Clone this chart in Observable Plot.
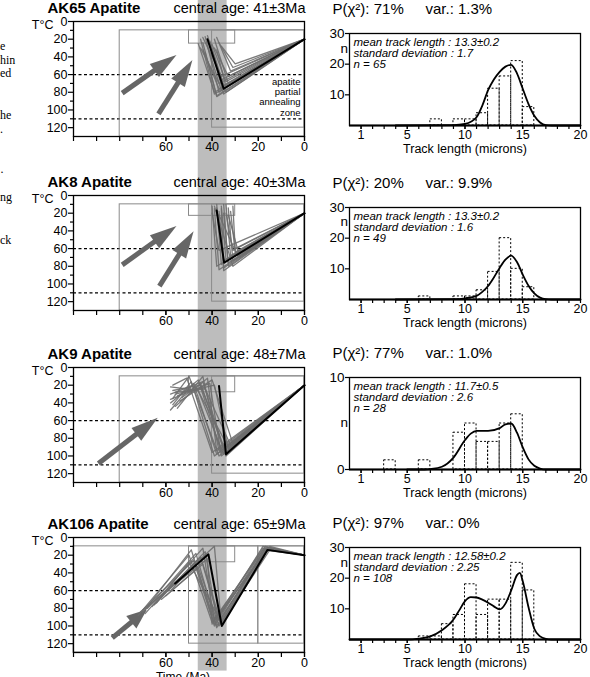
<!DOCTYPE html>
<html><head><meta charset="utf-8">
<script src="https://cdn.jsdelivr.net/npm/d3@7"></script>
<script src="https://cdn.jsdelivr.net/npm/@observablehq/plot@0.6"></script>
<style>
html,body{margin:0;padding:0;background:#fff;overflow:hidden;}
#fig{position:relative;width:590px;height:677px;overflow:hidden;background:#fff;}
.frag{position:absolute;left:0;font-family:"Liberation Serif","Times New Roman",serif;font-size:12px;line-height:10px;white-space:nowrap;}
</style></head><body><div id="fig"></div>
<script>
const FONT = '"Liberation Sans", Arial, Helvetica, sans-serif';

// ---------- labels ----------
const sampleNames = ["AK65 Apatite", "AK8 Apatite", "AK9 Apatite", "AK106 Apatite"];
const centralAges = ["central age: 41±3Ma", "central age: 40±3Ma", "central age: 48±7Ma", "central age: 65±9Ma"];
const pChi2 = ["P(χ²): 71%", "P(χ²): 20%", "P(χ²): 77%", "P(χ²): 97%"];
const variances = ["var.: 1.3%", "var.: 9.9%", "var.: 1.0%", "var.: 0%"];
const meanLengths = ["13.3±0.2", "13.3±0.2", "11.7±0.5", "12.58±0.2"];
const stdDevs = ["1.7", "1.6", "2.6", "2.25"];
const trackCounts = [65, 49, 28, 108];
const apazLines = ["apatite", "partial", "annealing", "zone"];
const apazLineT = [67.8, 79.7, 91.5, 103.4];

// ---------- time-temperature axes ----------
const timeDomain = [100, 0];
const tempDomain = [0, 130];
const timeTicks = [0, 10, 20, 30, 40, 50, 60, 70, 80, 90, 100];
const timeLabels = [0, 20, 40, 60];
const tempTicksMajor = [0, 20, 40, 60, 80, 100, 120];
const tempTicksMinor = [10, 30, 50, 70, 90, 110];
const apazBounds = [60, 110];
const bandAge = [46, 33.5];
const surfaceNow = [0, 20];

// constraint boxes [t1, t2, T1, T2]
const ak65Boxes = [[80, 0, 10, 130], [50, 30, 10, 25], [40, 0, 10, 120]];
const ak8Boxes = [[80, 0, 10, 130], [50, 30, 10, 23], [40, 0, 10, 120]];
const ak9Boxes = [[80, 0, 10, 130], [50, 30, 10, 28], [40, 0, 10, 120]];
const ak106Boxes = [[100, 0, 10, 130], [50, 30, 10, 28], [50, 20, 10, 120], [20, 0, 10, 120]];

// arrows [t1, T1, t2, T2]
const ak65Arrows = [[78.7, 81.5, 55.2, 38.5], [63, 105, 48.3, 44]];
const ak8Arrows = [[78.7, 79, 55.2, 35], [62.6, 103, 47.8, 41]];
const ak9Arrows = [[89, 109, 63.3, 57.5]];
const ak106Arrows = [[83, 114, 68, 82]];

// modelled paths: flat vertex lists [t, T, t, T, ...] (then to present-day surface)
const ak65Paths = [
  [45,20,39,82],[44,24,38,84],[43,17,37,80],[42,28,36,78],[41,22,35,72],[40,26,34,68],
  [39,30,33,62],[38,18,32,56],[44,32,37,76],[46,25,39,80],[37,24,31,52],[42,16,36,66],
  [40,34,35,82],[43,35,38,85],[39,20,33,70],[45,30,37,70],[41,27,34,80],[36,28,30,48],
  [38,32,34,74],[44,18,36,62]
];
const ak8Paths = [
  [40,12,38,80],[39,15,37,84],[38,10,36,78],[37,18,35,82],[36,12,34,72],[35,20,33,76],
  [34,10,32,68],[33,14,31,74],[32,18,30,64],[40,20,37,62],[39,12,31,80],[37,22,29,68],
  [36,15,35,85],[34,20,31,62],[38,14,35,74],[33,22,28,70],[31,12,30,60],[35,10,33,80]
];
const ak9Paths = [
  [58,48,48,18,38,98],[58,40,46,14,36,96],[57,35,50,10,37,100],[58,30,44,16,35,92],
  [57,26,45,20,34,96],[56,44,42,12,38,94],[55,32,47,22,33,90],[58,36,41,18,36,100],
  [56,28,43,24,32,88],[57,42,49,16,39,100],[54,38,40,14,31,86],[58,22,46,26,35,98],
  [55,46,44,10,37,94],[56,30,39,20,33,92],[57,20,51,12,40,96],[53,34,45,18,34,100]
];
const ak106Paths = [
  [70,85,49,14,39,98,18,10],[68,80,47,18,38,100,17,12],[72,88,50,20,40,96,18,14],
  [65,76,45,22,37,94,16,12],[70,82,48,26,39,100,17,10],[62,70,44,30,36,98,15,14],
  [66,78,43,16,38,92,16,11],[60,66,46,34,37,100,17,13],[71,84,42,24,40,98,18,12],
  [64,74,50,28,36,96,15,10],[69,86,44,12,39,94,16,14],[58,60,47,30,38,102,17,12],
  [70,84,39,10,36,98,16,12]
];
// best-fit paths
const ak65Best = [42,20,35,76];
const ak8Best = [38,17,34.8,76];
const ak9Best = [37,21,34,98];
const ak106Best = [56,52,41.6,19,35.8,100,16,14];

// ---------- track length histograms ----------
const binStarts = [0,1,2,3,4,5,6,7,8,9,10,11,12,13,14,15,16,17,18,19];
const ak65Counts = [0,0,0,0,0,0,0,2,0,2,2,4,12,16,21,6,0,0,0,0];
const ak8Counts  = [0,0,0,0,0,0,1,0,0,1,1,3,9,20,10,4,0,0,0,0];
const ak9Counts  = [0,0,0,1,0,0,1,0,0,4,5,3,3,5,6,0,0,0,0,0];
const ak106Counts= [0,0,0,0,0,0,1,1,5,8,18,8,13,13,25,16,0,0,0,0];

const ak65Curve = [[4,0],[9,0.1],[10,0.5],[11,2.7],[11.5,6.5],[12,11.5],[12.5,15],[13,17.5],[13.5,19.2],[14,19.8],[14.5,17],[15,12],[15.5,7],[16,3.2],[16.5,1],[17,0.1],[17.5,0],[20,0]];
const ak8Curve = [[4,0],[9,0.1],[10,0.4],[11,1.2],[11.5,2.5],[12,4.4],[12.5,7.2],[13,10.3],[13.5,13],[14,14.3],[14.5,12.2],[15,8.1],[15.5,4.5],[16,2],[16.5,0.6],[17,0.1],[17.5,0],[20,0]];
const ak9Curve = [[5,0],[6.5,0],[7,0.05],[8,0.3],[9,1.3],[10,3.2],[10.5,3.9],[11,4.2],[12,4.2],[13,4.5],[13.5,4.9],[14,5.0],[14.5,4.0],[15,2.4],[15.5,1.1],[16,0.4],[16.5,0.1],[17,0],[20,0]];
const ak106Curve = [[0,0],[5,0],[6,0.3],[7,1],[8,3],[9,6.5],[9.5,9.5],[10,12.5],[10.5,13.8],[11,13.7],[11.5,13],[12,12],[12.5,10.8],[13,9.8],[13.5,11.7],[14,16],[14.5,21],[14.75,21.7],[15,19],[15.5,10.5],[16,3.5],[16.5,1],[17,0.2],[17.5,0],[20,0]];

const lengthDomain = [0, 20];
const lengthTicks = [1,2,3,4,5,6,7,8,9,10,11,12,13,14,15,16,17,18,19];
const lengthLabels = [1, 5, 10, 15, 20];
const countMax = [30, 30, 10, 30];
const countTicks = [[10, 20, 30], [10, 20, 30], [0, 10], [10, 20, 30]];

// ---------- layout (pixels) ----------
const panelTop = [0, 174, 346, 516];
const panelH = [174, 172, 170, 161];
const leftMT = 21, leftArea = 115;
const rightMT = [33, 33, 31, 31];
const nDy = [15, 14, 45, 15];
const ARROW_COLOR = "#666666";

const boxes = [ak65Boxes, ak8Boxes, ak9Boxes, ak106Boxes];
const arrows = [ak65Arrows, ak8Arrows, ak9Arrows, ak106Arrows];
const paths = [ak65Paths, ak8Paths, ak9Paths, ak106Paths];
const bests = [ak65Best, ak8Best, ak9Best, ak106Best];
const counts = [ak65Counts, ak8Counts, ak9Counts, ak106Counts];
const curves = [ak65Curve, ak8Curve, ak9Curve, ak106Curve];

function toRows(list) {
  return list.flatMap((p, id) => {
    const pts = [];
    for (let j = 0; j < p.length; j += 2) pts.push({id, t: p[j], T: p[j + 1]});
    pts.push({id, t: surfaceNow[0], T: surfaceNow[1]});
    return pts;
  });
}

const fig = document.getElementById("fig");
function place(node, left, top) {
  node.style.position = "absolute";
  node.style.left = left + "px";
  node.style.top = top + "px";
  fig.appendChild(node);
}

let renderWorked = false;
function filledArrows(data) {
  return Plot.dot(data, {
    x: d => d[2], y: d => d[3], r: 0,
    render(index, scales, values, dimensions, context) {
      renderWorked = true;
      const g = d3.create("svg:g");
      for (const i of index) {
        const d = data[i];
        const x1 = scales.x(d[0]), y1 = scales.y(d[1]), x2 = scales.x(d[2]), y2 = scales.y(d[3]);
        const L = Math.hypot(x2 - x1, y2 - y1), ux = (x2 - x1) / L, uy = (y2 - y1) / L;
        const hl = Math.min(27, L * 0.45), hw = 8;
        const bx = x2 - ux * hl, by = y2 - uy * hl;
        g.append("line").attr("x1", x1).attr("y1", y1).attr("x2", bx + ux * 2).attr("y2", by + uy * 2)
          .attr("stroke", ARROW_COLOR).attr("stroke-width", 5);
        g.append("path")
          .attr("d", `M${x2},${y2}L${bx - uy * hw},${by + ux * hw}L${bx + uy * hw},${by - ux * hw}Z`)
          .attr("fill", ARROW_COLOR);
      }
      return g.node();
    }
  });
}

function leftPanel(k, useRender) {
  const H = panelH[k];
  const pxPerDeg = leftArea / (tempDomain[1] - tempDomain[0]);
  const bandTop = -leftMT / pxPerDeg;
  const bandBot = k === 3 ? 151 : (H - leftMT) / pxPerDeg;
  const marks = [
    Plot.rect([bandAge], {x1: d => d[0], x2: d => d[1], y1: bandTop, y2: bandBot, fill: "#bdbdbd"}),
    Plot.ruleY(apazBounds, {stroke: "black", strokeWidth: 1.2, strokeDasharray: "3,2.5"}),
    Plot.rect(boxes[k], {x1: d => d[0], x2: d => d[1], y1: d => d[2], y2: d => d[3], fill: "none", stroke: "#8a8a8a", strokeWidth: 1}),
    useRender
      ? filledArrows(arrows[k])
      : Plot.arrow(arrows[k], {x1: d => d[0], y1: d => d[1], x2: d => d[2], y2: d => d[3], stroke: ARROW_COLOR, strokeWidth: 4.5, headLength: 5.5, headAngle: 45}),
    Plot.line(toRows(paths[k]), {x: "t", y: "T", z: "id", stroke: "#6e6e6e", strokeWidth: 1.3, strokeOpacity: 0.9}),
    Plot.line(toRows([bests[k]]), {x: "t", y: "T", z: "id", stroke: "black", strokeWidth: 2}),
    Plot.frame({stroke: "black", strokeWidth: 1.3}),
    Plot.axisY(tempTicksMajor, {anchor: "left", tickSize: 5, tickPadding: 1, label: null, fontSize: 12.5, strokeWidth: 1.2}),
    Plot.axisY(tempTicksMinor, {anchor: "left", tickSize: 3, tickFormat: () => "", label: null, strokeWidth: 1.2}),
    Plot.axisX(timeTicks, {anchor: "bottom", tickSize: 5, tickFormat: () => "", label: null, strokeWidth: 1.2}),
    Plot.axisX(timeLabels, {anchor: "bottom", tickSize: 5, tickPadding: 1, label: null, fontSize: 12.5, strokeWidth: 1.2}),
    Plot.text(["T°C"], {text: d => d, frameAnchor: "top-left", lineAnchor: "middle", dx: -20, dy: 3, textAnchor: "end", fontSize: 12.5}),
    Plot.text([sampleNames[k]], {text: d => d, frameAnchor: "top-left", lineAnchor: "middle", dx: -26, dy: -13, textAnchor: "start", fontSize: 15, fontWeight: "bold"}),
    Plot.text([centralAges[k]], {text: d => d, frameAnchor: "top-right", lineAnchor: "middle", dx: 1, dy: -13, textAnchor: "end", fontSize: 14.5})
  ];
  if (k === 0) {
    marks.push(Plot.text(apazLines, {text: d => d, x: 0, y: (d, i) => apazLineT[i], dx: -4, lineAnchor: "middle", textAnchor: "end", fontSize: 9.5}));
  }
  if (k === 3) {
    marks.push(Plot.text(["Time (Ma)"], {text: d => d, frameAnchor: "bottom", lineAnchor: "middle", dx: -6, dy: 25, fontSize: 12}));
  }
  return Plot.plot({
    width: 320, height: H,
    marginLeft: 73, marginRight: 16, marginTop: leftMT, marginBottom: H - leftMT - leftArea,
    x: {domain: timeDomain},
    y: {domain: tempDomain, reverse: true},
    style: {fontFamily: FONT, fontSize: "13px", overflow: "visible", background: "transparent", color: "black"},
    marks
  });
}

function rightPanel(k) {
  const mt = rightMT[k], area = 92;
  const bars = binStarts.map((x, i) => ({x, n: counts[k][i]})).filter(d => d.n > 0);
  const stats = `mean track length : ${meanLengths[k]}\nstandard deviation : ${stdDevs[k]}\nn = ${trackCounts[k]}`;
  return Plot.plot({
    width: 270, height: panelH[k],
    marginLeft: 29, marginRight: 10, marginTop: mt, marginBottom: panelH[k] - mt - area,
    x: {domain: lengthDomain},
    y: {domain: [0, countMax[k]]},
    style: {fontFamily: FONT, fontSize: "13px", overflow: "visible", background: "transparent", color: "black"},
    marks: [
      Plot.rect(bars, {x1: "x", x2: d => d.x + 1, y1: 0, y2: "n", fill: "none", stroke: "black", strokeWidth: 1, strokeDasharray: "2,2"}),
      Plot.line(curves[k], {x: d => d[0], y: d => d[1], curve: "monotone-x", stroke: "black", strokeWidth: 1.8}),
      Plot.ruleY([0], {stroke: "black", strokeWidth: 2}),
      Plot.frame({stroke: "black", strokeWidth: 1.3}),
      Plot.axisX(lengthTicks, {anchor: "bottom", tickSize: 4, tickFormat: () => "", label: null, strokeWidth: 1.2}),
      Plot.axisX(lengthLabels, {anchor: "bottom", tickSize: 4, tickPadding: 1, label: null, fontSize: 12.5, strokeWidth: 1.2}),
      Plot.axisY(countTicks[k], {anchor: "left", tickSize: 4, tickPadding: 1, label: null, fontSize: 13.5, strokeWidth: 1.2}),
      Plot.text(["n"], {text: d => d, frameAnchor: "top-left", lineAnchor: "middle", dx: -9, dy: nDy[k], fontSize: 13.5}),
      Plot.text([stats], {text: d => d, frameAnchor: "top-left", dx: 4, dy: 5, lineAnchor: "top", textAnchor: "start", fontSize: 11.5, fontStyle: "italic", lineHeight: 0.96}),
      Plot.text([pChi2[k]], {text: d => d, frameAnchor: "top-left", lineAnchor: "middle", dx: -17, dy: -24, textAnchor: "start", fontSize: 15}),
      Plot.text([variances[k]], {text: d => d, frameAnchor: "top-left", lineAnchor: "middle", dx: 76, dy: -24, textAnchor: "start", fontSize: 15}),
      Plot.text(["Track length (microns)"], {text: d => d, frameAnchor: "bottom", lineAnchor: "middle", dy: 23, fontSize: 12.5})
    ]
  });
}

// test whether the render option is supported
leftPanel(0, true);
const useRender = renderWorked;

for (let k = 0; k < 4; k++) {
  place(leftPanel(k, useRender), 0, panelTop[k]);
  place(rightPanel(k), 320, panelTop[k]);
}

// fragments of the neighbouring text column at the left edge
const fragments = [["e", 50], ["hin", 64], ["ed", 77], ["he", 119], [".", 133], ["·", 176], ["ng", 201], ["ck", 244]];
for (const [s, base] of fragments) {
  const d = document.createElement("div");
  d.className = "frag";
  d.textContent = s;
  d.style.top = (base - 9) + "px";
  fig.appendChild(d);
}
</script></body></html>
